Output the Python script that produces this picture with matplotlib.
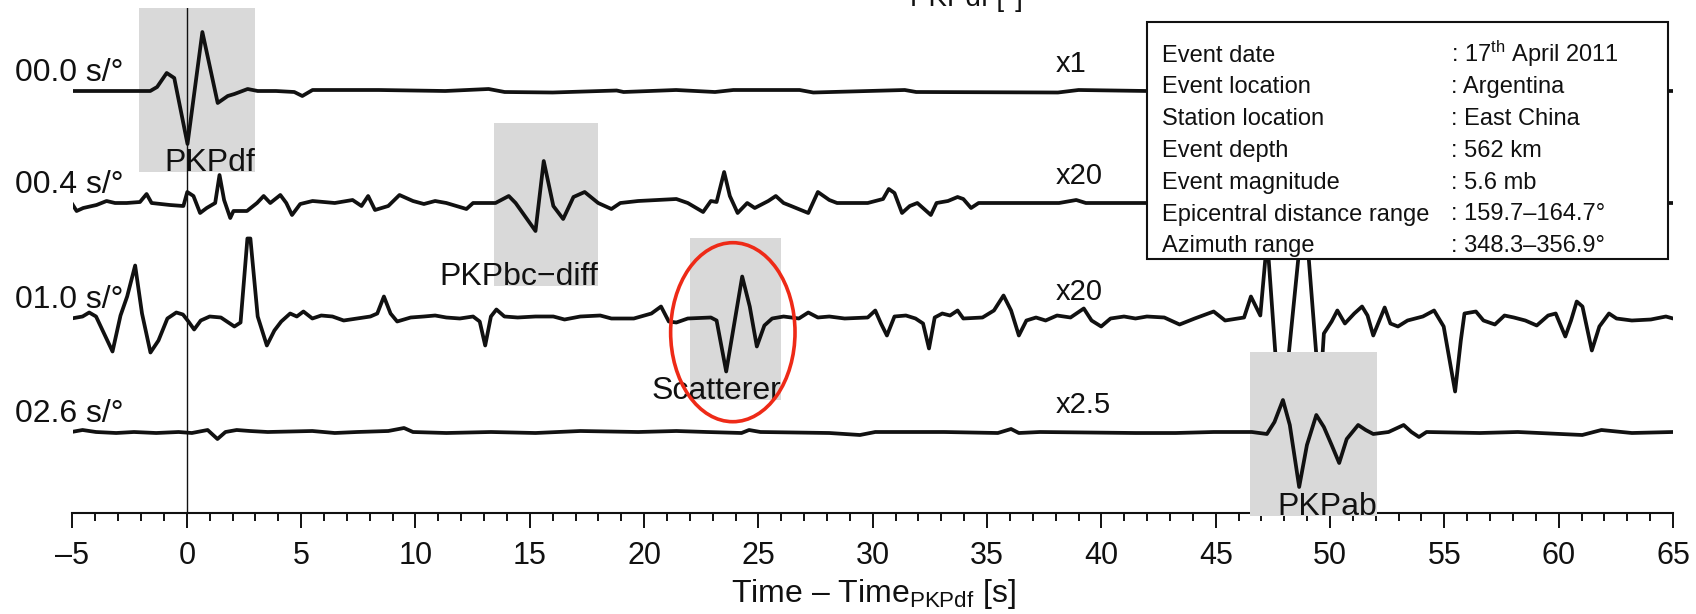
import numpy as np
import matplotlib
matplotlib.use("Agg")
import matplotlib.pyplot as plt
from matplotlib.patches import Rectangle, Ellipse
from matplotlib.ticker import MultipleLocator
import matplotlib.transforms as mtrans

plt.rcParams['font.family'] = ['Liberation Sans', 'DejaVu Sans']
plt.rcParams['mathtext.fontset'] = 'custom'
plt.rcParams['mathtext.rm'] = 'Liberation Sans'
plt.rcParams['mathtext.it'] = 'Liberation Sans:italic'
plt.rcParams['mathtext.bf'] = 'Liberation Sans:bold'

# ---------------- data ----------------
slowness_labels = ["00.0 s/°", "00.4 s/°", "01.0 s/°", "02.6 s/°"]
gain_labels = ["x1", "x20", "x20", "x2.5"]

# (time [s], amplitude [plot px])
trace_00 = [(-5.0, 0), (-1.6, 0), (-1.3, 4), (-0.88, 18), (-0.55, 13), (0.03, -53), (0.68, 59),
            (1.35, -12), (1.79, -5), (2.08, -3), (2.66, 2), (3.1, 0), (3.9, 0), (4.7, -1), (5.05, -5),
            (5.5, 1), (8.4, 1), (11.3, 0), (13.2, 2), (13.9, -1), (16.0, -1.5), (18.8, 0.5), (19.1, -1),
            (21.4, 1), (23.1, -1), (23.9, 1), (26.8, 1), (27.4, -1.5), (31.4, 1), (31.9, -1), (38.1, -1.5),
            (39.0, 1), (42.0, 0), (65.0, 0)]

trace_04 = [(-5.04, 0), (-4.82, -8), (-4.53, -5), (-3.95, -2), (-3.51, 2), (-3.14, 0), (-2.63, 0),
            (-2.05, 1), (-1.76, 9), (-1.54, 0), (-0.74, -2), (-0.15, -3), (0.02, 11), (0.29, 7),
            (0.58, -10), (0.87, -5), (1.24, 0), (1.43, 28), (1.63, 3), (1.90, -15), (2.04, -8),
            (2.63, -8), (3.07, 0), (3.36, 7), (3.65, 0), (4.09, 8), (4.35, 0), (4.60, -12), (4.96, -1),
            (5.50, 2), (6.47, 0), (7.25, 3), (7.64, -3), (7.93, 7), (8.23, -7), (8.81, -3), (9.30, 8),
            (9.89, 2), (10.37, -1), (10.86, 2), (11.35, 0), (12.23, -6), (12.52, 0), (13.50, 0),
            (14.08, 7), (14.38, 0), (15.25, -28), (15.61, 42), (16.03, -3), (16.46, -16), (16.91, 6),
            (17.40, 11), (17.99, 0), (18.57, -6), (18.96, 0), (19.74, 2), (21.41, 4), (21.91, 0),
            (22.58, -9), (22.92, 2), (23.17, 1), (23.50, 31), (23.75, 7), (24.09, -10), (24.51, 0),
            (24.84, -5), (25.43, 2), (25.76, 7), (26.10, 0), (26.43, -3), (27.18, -10), (27.60, 11),
            (28.10, 3), (28.44, 0), (29.78, 0), (30.45, 4), (30.70, 14), (30.95, 10), (31.28, -10),
            (31.62, -3), (31.95, 0), (32.54, -12), (32.79, 0), (33.29, 2), (33.71, 6), (33.96, 4),
            (34.30, -5), (34.63, 0), (36.47, 0), (38.15, 0), (38.90, 3), (39.32, 0), (42.0, 0), (65.0, 0)]

trace_10 = [(-5.05, 0), (-4.56, 2), (-4.27, 6), (-3.97, 2), (-3.68, -12), (-3.25, -33), (-2.90, 3),
            (-2.61, 22), (-2.26, 53), (-1.96, 5), (-1.59, -34), (-1.24, -22), (-0.85, 0), (-0.46, 6),
            (-0.17, 4), (0.07, -3), (0.32, -11), (0.61, -2), (1.0, 2), (1.49, 1), (2.08, -8), (2.35, -4),
            (2.65, 115), (2.78, 115), (3.10, 2), (3.50, -27), (3.83, -12), (4.13, -3), (4.52, 5),
            (4.81, 2), (5.10, 7), (5.49, 0), (5.88, 3), (6.37, 2), (6.86, -2), (7.45, 0), (8.03, 2),
            (8.33, 5), (8.62, 22), (8.91, 5), (9.20, -3), (9.79, 1), (10.37, 2), (10.86, 3), (11.35, 1),
            (11.94, 0), (12.52, 2), (12.81, -3), (13.05, -27), (13.30, 2), (13.54, 9), (13.89, 2),
            (14.47, 1), (15.25, 2), (16.03, 2), (16.52, -1), (17.21, 2), (18.08, 3), (18.57, 0),
            (19.55, 0), (20.32, 5), (20.74, 12), (21.08, -3), (21.41, -4), (21.91, 0), (22.92, 1),
            (23.17, -2), (23.59, -53), (23.89, -12), (24.29, 42), (24.62, 12), (24.93, -28), (25.26, -7),
            (25.60, 0), (26.10, 2), (26.77, 0), (27.18, 6), (27.60, 1), (28.10, 2), (28.77, 0),
            (29.78, 1), (30.11, 8), (30.36, -5), (30.62, -17), (30.95, 2), (31.45, 3), (31.87, 0),
            (32.20, -5), (32.46, -30), (32.71, 1), (33.04, 5), (33.38, 3), (33.71, 8), (33.96, 0),
            (34.80, 1), (35.30, 8), (35.72, 23), (36.05, 8), (36.39, -17), (36.72, -2), (37.14, 1),
            (37.56, -2), (38.06, 3), (38.65, 1), (39.23, 10), (39.57, -2), (39.99, -8), (40.40, 0),
            (40.99, 2), (41.49, 0), (41.99, 2), (42.75, 1), (43.42, -6), (44.08, 0), (44.91, 7),
            (45.41, -2), (46.24, 1), (46.54, 22), (46.95, 3), (47.25, 120), (47.75, -110), (48.0, -110),
            (48.7, 120), (49.0, 120), (49.55, -90), (49.73, -15), (50.07, -3), (50.32, 8), (50.65, -5),
            (51.06, 5), (51.40, 12), (51.64, 3), (51.89, -17), (52.14, -3), (52.39, 11), (52.64, -5),
            (52.97, -8), (53.39, -2), (54.06, 2), (54.55, 8), (54.97, -8), (55.47, -73), (55.72, -22),
            (55.88, 5), (56.38, 7), (56.71, -2), (57.21, -6), (57.63, 3), (58.04, 1), (58.54, -2),
            (59.04, -7), (59.54, 3), (59.87, 5), (60.29, -18), (60.54, -2), (60.79, 17), (61.04, 12),
            (61.45, -32), (61.78, -8), (62.20, 5), (62.53, 0), (63.20, -2), (64.03, -1), (64.69, 2),
            (65.0, 0)]

trace_26 = [(-5.05, 0), (-4.56, 2), (-3.97, 0), (-3.09, -1), (-2.31, 0), (-1.34, -1), (-0.36, 0),
            (0.22, -1), (0.91, 2), (1.34, -7), (1.69, 0), (2.18, 2), (2.76, 1), (3.54, 0), (5.49, 1),
            (6.47, -1), (7.45, 0), (8.81, 1), (9.50, 4), (9.89, 0), (11.35, -1), (13.30, 0), (15.25, -1),
            (17.21, 1), (19.74, 0), (21.41, 1), (22.75, 0), (24.26, -1), (24.59, 2), (25.09, 0),
            (28.10, -1), (29.44, -3), (30.11, 0), (33.13, 0), (35.47, -1), (36.05, 3), (36.39, -1),
            (37.31, 0), (41.49, -1), (43.25, -1), (44.91, 0), (46.58, 0), (47.24, -2), (47.57, 10),
            (47.94, 32), (48.24, 7), (48.65, -55), (48.99, -13), (49.40, 17), (49.73, 5), (50.07, -13),
            (50.40, -31), (50.73, -7), (51.23, 7), (51.56, 2), (51.89, -2), (52.56, 0), (53.22, 7),
            (53.56, 0), (53.89, -5), (54.22, 0), (56.55, -1), (58.21, 0), (61.03, -3), (61.87, 2),
            (63.2, -1), (65.0, 0)]

traces = [trace_00, trace_04, trace_10, trace_26]

phase_names = ["PKPdf", "PKPbc\u2212diff", "Scatterer", "PKPab"]
phase_t0 = [-2.09, 13.45, 22.0, 46.5]
phase_t1 = [2.98, 17.98, 26.0, 52.05]

info_keys = ["Event date", "Event location", "Station location", "Event depth",
             "Event magnitude", "Epicentral distance range", "Azimuth range"]
info_values = [": 17$^{\\mathrm{th}}$ April 2011", ": Argentina", ": East China", ": 562 km",
               ": 5.6 mb", ": 159.7\u2013164.7°", ": 348.3\u2013356.9°"]

xticks = list(range(-5, 66, 5))

# ---------------- layout ----------------
W, H = 1696, 614
AX_L, AX_R, AX_TOP, AX_BOT = 72.5, 1673.0, 8.0, 513.0
INK = '#111111'

fig = plt.figure(figsize=(W / 100, H / 100), dpi=100)
ax = fig.add_axes([AX_L / W, (H - AX_BOT) / H, (AX_R - AX_L) / W, (AX_BOT - AX_TOP) / H])
ax.set_xlim(-5, 65)
ax.set_ylim(0, AX_BOT - AX_TOP)


def py(y_px):
    return AX_BOT - y_px


baselines = [py(91), py(203), py(318.5), py(432)]
box_top = [py(8), py(122.7), py(237.7), py(352)]
box_bot = [py(171.7), py(286), py(400), py(516)]
box_z = [1, 1, 1, 3]
trace_z = [2, 2, 2, 4]
CLIP = 80

for i in range(4):
    t0, t1 = phase_t0[i], phase_t1[i]
    ax.add_patch(Rectangle((t0, box_bot[i]), t1 - t0, box_top[i] - box_bot[i],
                           facecolor='#d9d9d9', edgecolor='none', zorder=box_z[i], clip_on=False))
    ax.text(t1, box_bot[i] + 1, phase_names[i], ha='right', va='baseline', fontsize=23,
            color=INK, zorder=5, clip_on=False)

ax.axvline(0, color=INK, lw=1.0, zorder=1.5)

for i, tr in enumerate(traces):
    t = np.array([p[0] for p in tr])
    a = np.clip(np.array([p[1] for p in tr], dtype=float), -CLIP, CLIP)
    ax.plot(t, baselines[i] + a, color=INK, lw=2.7, solid_joinstyle='round',
            solid_capstyle='round', zorder=trace_z[i])

fig_x = mtrans.blended_transform_factory(fig.transFigure, ax.transData)
for i in range(4):
    ax.text(15 / W, baselines[i] + 10, slowness_labels[i], transform=fig_x, ha='left',
            va='baseline', fontsize=23, color=INK, clip_on=False)
    ax.text(38.0, baselines[i] + 19, gain_labels[i], ha='left', va='baseline', fontsize=21,
            color=INK)

# scatterer ellipse
ax.add_patch(Ellipse((23.88, py(332.2)), 5.44, 179, facecolor='none', edgecolor='#ee2a17',
                     lw=2.6, zorder=5, clip_on=False))

# info box
bx0 = -5 + (1147 - AX_L) / 22.87
bx1 = -5 + (1668 - AX_L) / 22.87
ax.add_patch(Rectangle((bx0, py(259)), bx1 - bx0, py(21.7) - py(259), facecolor='white',
                       edgecolor=INK, lw=1.5, zorder=6, clip_on=False))
kx = -5 + (1162.7 - AX_L) / 22.87
vx = -5 + (1451 - AX_L) / 22.87
for i, (k, v) in enumerate(zip(info_keys, info_values)):
    yb = py(61.5 + i * 31.8)
    ax.text(kx, yb, k, ha='left', va='baseline', fontsize=17, color=INK, zorder=7)
    ax.text(vx, yb, v, ha='left', va='baseline', fontsize=17, color=INK, zorder=7)

# axes styling
for s in ['left', 'right', 'top']:
    ax.spines[s].set_visible(False)
ax.spines['bottom'].set_linewidth(1.5)
ax.spines['bottom'].set_color(INK)
ax.set_yticks([])
ax.set_xticks(xticks)
ax.set_xticklabels([str(v).replace('-', '\u2013') for v in xticks])
ax.xaxis.set_minor_locator(MultipleLocator(1))
ax.tick_params(axis='x', which='major', length=10.8, width=1.4, labelsize=22, pad=9.5,
               direction='out', colors=INK)
ax.tick_params(axis='x', which='minor', length=5.8, width=1.4, direction='out', colors=INK)

fig.text(873 / W, (H - 602) / H, "Time \u2013 Time$_{\\mathrm{PKPdf}}$ [s]", ha='center',
         va='baseline', fontsize=23, color=INK)

# partially visible caption from the panel above (cut off at the top edge, as in the source)
fig.text(910 / W, (H - 6) / H, "PKPdf [°]", ha='left', va='baseline', fontsize=20, color=INK)

fig.savefig('out.png', dpi=100)
